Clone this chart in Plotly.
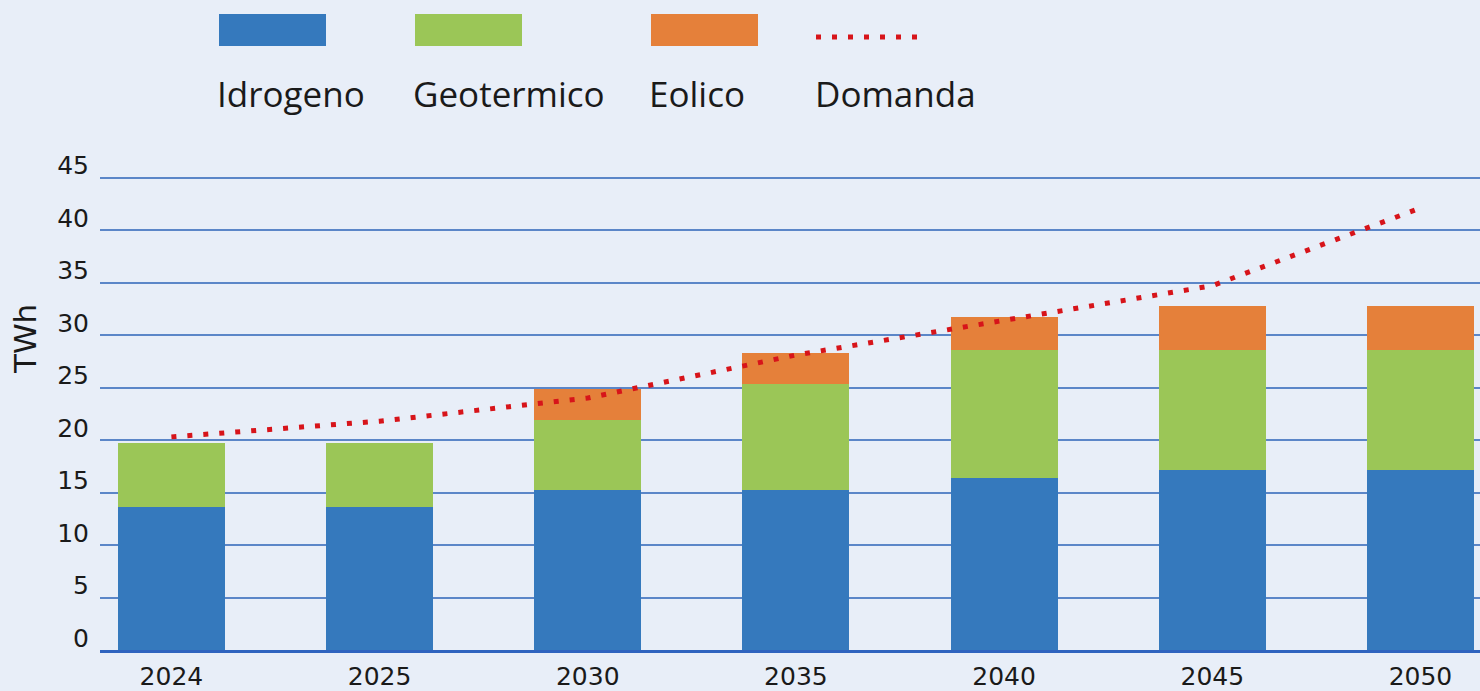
import plotly.graph_objects as go

# ---- data ----
years = ["2024", "2025", "2030", "2035", "2040", "2045", "2050"]
idrogeno = [13.6, 13.6, 15.2, 15.2, 16.4, 17.1, 17.1]
geotermico = [6.1, 6.1, 6.7, 10.1, 12.2, 11.5, 11.5]
eolico = [0.0, 0.0, 3.0, 3.0, 3.1, 4.2, 4.2]
domanda = [20.3, 21.8, 24.0, 28.1, 31.4, 34.7, 42.1]
y_ticks = [0, 5, 10, 15, 20, 25, 30, 35, 40, 45]
series_names = ["Idrogeno", "Geotermico", "Eolico", "Domanda"]

# ---- style ----
BG = "#e8eef8"
BLUE = "#3579bd"
GREEN = "#9bc657"
ORANGE = "#e5803a"
RED = "#d7141a"
GRID = "#5b86c8"
AXIS = "#2f63bf"
TXT = "#1a1a1a"
W, H = 1480, 691
YMAX = 45.15
L, R, B = 100, 0, 41
PH = round(472 * YMAX / 45)
T = H - B - PH
PW = W - L - R

def px(x):
    return (x - L) / PW

def py(y):
    return (H - B - y) / PH

fig = go.Figure()
for name, vals, col in zip(series_names[:3], [idrogeno, geotermico, eolico], [BLUE, GREEN, ORANGE]):
    fig.add_trace(go.Bar(x=years, y=vals, name=name, marker=dict(color=col, line=dict(width=0)),
                         width=0.514, showlegend=False))

fig.add_trace(go.Scatter(x=years, y=domanda, name=series_names[3], mode="lines",
                         line=dict(color=RED, width=5, dash="5px,11px"), showlegend=False))

# ---- custom legend (swatches above labels) ----
legend_items = [
    (219, 326, BLUE, "Idrogeno"),
    (415, 522, GREEN, "Geotermico"),
    (651, 758, ORANGE, "Eolico"),
]
LEG_FONT = dict(family="Open Sans", size=35, color=TXT)
for x0, x1, col, label in legend_items:
    fig.add_shape(type="rect", xref="paper", yref="paper", x0=px(x0), x1=px(x1),
                  y0=py(46), y1=py(14), fillcolor=col, line=dict(width=0))
    fig.add_annotation(xref="paper", yref="paper", x=px(x0 - 4), y=py(93), text=label,
                       showarrow=False, xanchor="left", yanchor="middle", font=LEG_FONT)
fig.add_shape(type="line", xref="paper", yref="paper", x0=px(816), x1=px(925),
              y0=py(37), y1=py(37), line=dict(color=RED, width=5, dash="5px,11px"))
fig.add_annotation(xref="paper", yref="paper", x=px(813), y=py(93), text=series_names[3],
                   showarrow=False, xanchor="left", yanchor="middle", font=LEG_FONT)

# y-axis title
fig.add_annotation(xref="paper", yref="paper", x=px(25), y=py(339), text="TWh",
                   textangle=-90, showarrow=False, xanchor="center", yanchor="middle",
                   font=dict(family="DejaVu Sans", size=31, color=TXT))

fig.update_layout(
    width=W, height=H,
    margin=dict(l=L, r=R, t=T, b=B, pad=0),
    paper_bgcolor=BG, plot_bgcolor=BG,
    barmode="stack",
    font=dict(family="DejaVu Sans", color=TXT),
    showlegend=False,
)
fig.update_xaxes(type="category", range=[-0.343, 6.286], showgrid=False,
                 showline=True, linecolor=AXIS, linewidth=3, layer="above traces",
                 ticks="", tickfont=dict(family="DejaVu Sans", size=25, color=TXT),
                 ticklabelstandoff=2)
fig.update_yaxes(range=[0, YMAX], tickvals=y_ticks, showgrid=True, gridcolor=GRID,
                 gridwidth=1.5, zeroline=False, showline=False, ticks="",
                 tickfont=dict(family="DejaVu Sans", size=25, color=TXT), ticklabelshift=-12,
                 ticklabelstandoff=10)

fig.write_html(
    "out.html",
    config={"displayModeBar": False},
    post_script="document.body.style.margin='0px';document.body.style.background='%s';"
                "document.body.style.overflow='hidden';" % BG,
)
